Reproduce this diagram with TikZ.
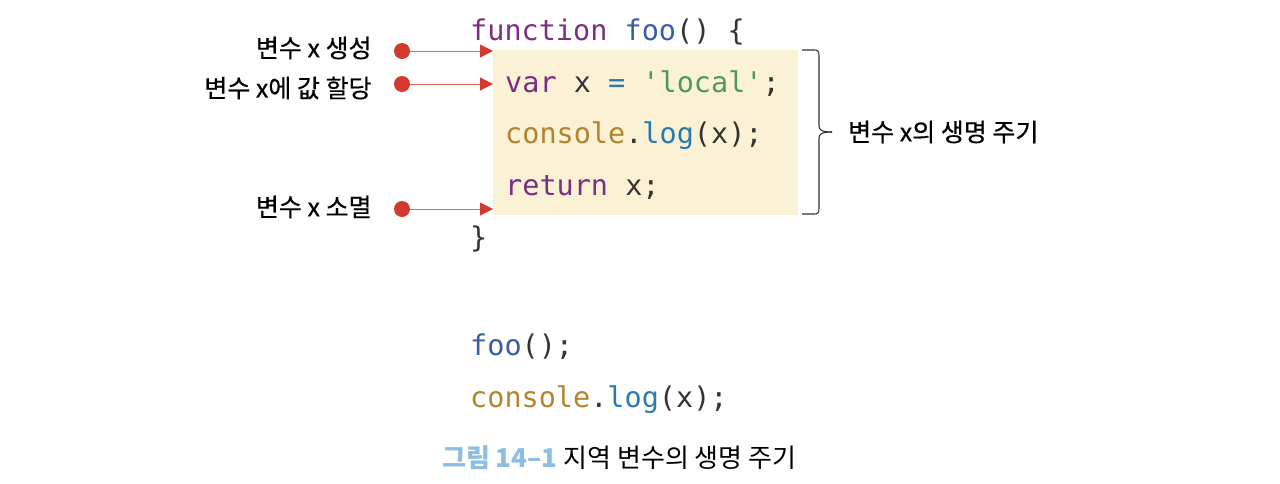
\documentclass[tikz,border=0pt]{standalone}
\usepackage{fontspec}
\setmainfont{Noto Sans CJK KR}
\newfontfamily\codefont{DejaVu Sans Mono}
\newfontfamily\lblfont{Noto Sans CJK KR}[FakeBold=0.5]
\usetikzlibrary{positioning, arrows.meta}
\definecolor{kwpurple}{HTML}{7B2F80}
\definecolor{fnblue}{HTML}{3A5DA8}
\definecolor{methblue}{HTML}{2A7AB0}
\definecolor{strgreen}{HTML}{4F9A56}
\definecolor{objgold}{HTML}{B3842C}
\definecolor{codeink}{HTML}{333333}
\definecolor{hlyellow}{HTML}{FBF1D5}
\definecolor{pinred}{HTML}{D33A2F}
\definecolor{capblue}{HTML}{8CBEE3}

\begin{document}
\begin{tikzpicture}[x=1pt, y=-1pt,
  code/.style={anchor=base west, inner sep=0pt, text=codeink,
    font=\codefont\fontsize{28.5}{30}\selectfont},
  lbl/.style={inner sep=0pt, text=black, font=\lblfont\fontsize{25}{28}\selectfont},
  dot/.style={circle, fill=pinred, inner sep=0pt, minimum size=16pt},
  pin/.style={pinred!75, line width=1pt, -{Triangle[length=13pt,width=13pt,color=pinred]}}]

\useasboundingbox (0,0) rectangle (1280,483);

\fill[hlyellow] (493,50) rectangle (798,215); % function body

% code lines
\node[code] (fnline) at (470,40) {\textcolor{kwpurple}{function} \textcolor{fnblue}{foo}() \{};
\node[code] (varline) at (505,92) {\textcolor{kwpurple}{var} x \textcolor{methblue}{=} \textcolor{strgreen}{'local'};};
\node[code] (logline) at (505,143) {\textcolor{objgold}{console}.\textcolor{methblue}{log}(x);};
\node[code] (retline) at (505,195) {\textcolor{kwpurple}{return} x;};
\node[code] (closeline) at (470,247) {\}};
\node[code] (callline) at (470,355) {\textcolor{fnblue}{foo}();};
\node[code] (outline) at (470,407) {\textcolor{objgold}{console}.\textcolor{methblue}{log}(x);};

% pins
\node[dot] (born) at (402,51) {};
\node[dot] (assign) at (402,84) {};
\node[dot] (gone) at (402,209) {};
\coordinate (bornT) at (493,51);
\coordinate (assignT) at (493,84);
\coordinate (goneT) at (493,209);
\draw[pin] (born) -- (bornT);
\draw[pin] (assign) -- (assignT);
\draw[pin] (gone) -- (goneT);

\node[lbl, left=22pt of born, yshift=3pt] (bornL) {변수 x 생성};
\node[lbl, left=22pt of assign, yshift=-4pt] (assignL) {변수 x에 값 할당};
\node[lbl, left=22pt of gone, yshift=2pt] (goneL) {변수 x 소멸};

% brace
\draw[codeink, line width=1.1pt] (802,50) -- (814,50) .. controls (818,50) and (819,51) .. (819,56)
  -- (819,126) .. controls (819,130) and (822,132) .. (832,132);
\draw[codeink, line width=1.1pt] (802,214) -- (814,214) .. controls (818,214) and (819,213) .. (819,208)
  -- (819,138) .. controls (819,134) and (822,132) .. (832,132);
\coordinate (braceTip) at (832,132);
\node[lbl, right=16pt of braceTip] (lifeL) {변수 x의 생명 주기};

% caption
\node[lbl, anchor=base west, font=\fontsize{26}{28}\selectfont] (caption) at (442,467) {\textcolor{capblue}{\bfseries 그림 14–1} 지역 변수의 생명 주기};
\end{tikzpicture}
\end{document}
